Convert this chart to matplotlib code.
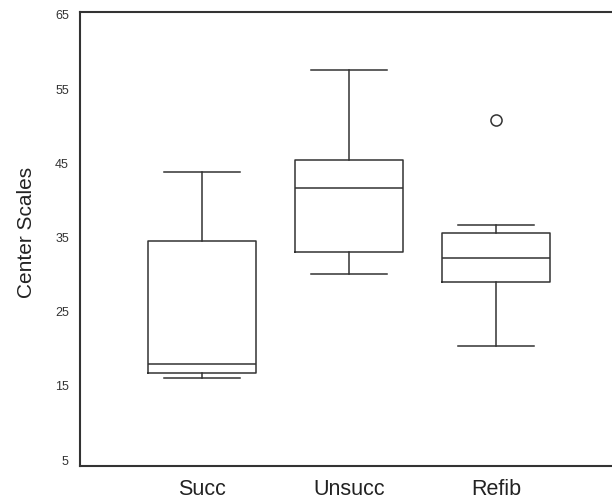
import matplotlib
matplotlib.use('Agg')
import matplotlib.pyplot as plt

groups = ['Succ', 'Unsucc', 'Refib']
whis_lo = [16.0, 30.1, 20.4]
q1 = [16.8, 33.0, 29.0]
medians = [18.0, 41.7, 32.2]
q3 = [34.5, 45.4, 35.6]
whis_hi = [43.8, 57.6, 36.7]
outliers = [[], [], [50.8]]

y_ticks = [5, 15, 25, 35, 45, 55, 65]

plt.rcParams['font.family'] = ['Liberation Sans', 'DejaVu Sans']
ink = '#333333'

stats = []
for i, name in enumerate(groups):
    stats.append({'label': name, 'med': medians[i], 'q1': q1[i], 'q3': q3[i],
                  'whislo': whis_lo[i], 'whishi': whis_hi[i], 'fliers': outliers[i]})

fig = plt.figure(figsize=(6.12, 4.98), dpi=100)
ax = fig.add_axes([80 / 612, 32 / 498, 532 / 612, 454 / 498])

line = dict(color=ink, linewidth=1.1)
ax.bxp(stats, positions=[1, 2, 3], widths=0.74,
       boxprops=line, whiskerprops=line, capprops=line, medianprops=line,
       flierprops=dict(marker='o', markerfacecolor='none', markeredgecolor=ink,
                       markersize=8, markeredgewidth=1.1),
       capwidths=0.52)

ax.set_xlim(0.17, 3.79)
ax.set_ylim(4.2, 65.4)
ax.set_yticks(y_ticks)
ax.set_yticklabels([str(t) for t in y_ticks], fontsize=9, color=ink)
ax.set_xticks([1, 2, 3])
ax.set_xticklabels(groups, fontsize=15.5, color='#222222')
ax.tick_params(axis='both', length=0)
ax.tick_params(axis='y', pad=8)
ax.tick_params(axis='x', pad=9)
ax.set_ylabel('Center Scales', fontsize=15, color='#222222', labelpad=14)
ax.yaxis.label.set_y(0.515)

ax.spines['right'].set_visible(False)
for s in ['left', 'top', 'bottom']:
    ax.spines[s].set_color(ink)
    ax.spines[s].set_linewidth(1.5)

fig.savefig('out.png', dpi=100)
